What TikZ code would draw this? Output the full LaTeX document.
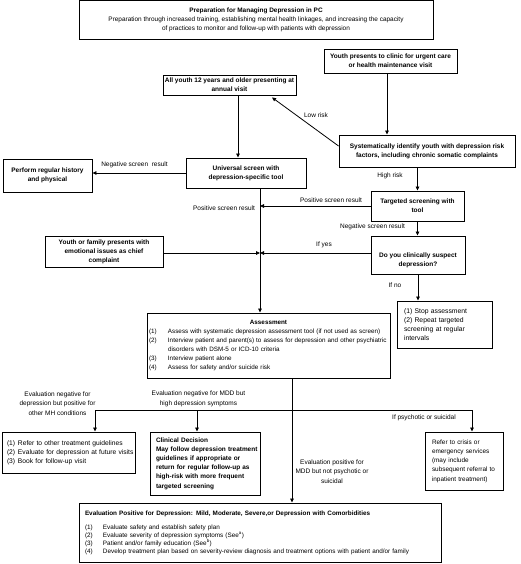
\documentclass[tikz,border=0pt]{standalone}
\usepackage{fontspec}
\setmainfont{Liberation Sans}
\usetikzlibrary{arrows.meta,calc}
\newcommand\fsz[2]{\fontsize{#1}{#2}\selectfont}
\newcommand\fs{\fsz{6.5}{9}}
\newcommand\numit[3]{\makebox[#1][l]{#2}\mbox{#3}}
\begin{document}
\begin{tikzpicture}[x=1pt,y=-1pt,
  box/.style={draw, line width=0.9pt, inner sep=0pt, font=\fs, align=center},
  bbox/.style={box, font=\fs\bfseries},
  lbox/.style={box, align=left},
  arr/.style={line width=0.8pt, -{Triangle[length=4pt,width=3.6pt]}},
  ln/.style={line width=0.8pt},
  lab/.style={font=\fsz{6.5}{9.5}, align=center, inner sep=0pt}]
\useasboundingbox (0,0) rectangle (520,564);

% boxes
\node[box, font=\fsz{6.45}{9}, minimum width=354pt, minimum height=39pt] (top) at (256,19.75)
  {\textbf{Preparation for Managing Depression in PC}\\Preparation through increased training, establishing mental health linkages, and increasing the capacity\\of practices to monitor and follow-up with patients with depression};
\node[bbox, minimum width=133pt, minimum height=24pt] (youth) at (390.5,61)
  {Youth presents to clinic for urgent care\\or health maintenance visit};
\node[bbox, minimum width=133pt, minimum height=20pt] (allyouth) at (229.5,85)
  {All youth 12 years and older presenting at\\annual visit};
\node[bbox, minimum width=176pt, minimum height=32pt] (sys) at (427,151)
  {Systematically identify youth with depression risk\\factors, including chronic somatic complaints};
\node[bbox, minimum width=89pt, minimum height=33pt] (perf) at (47.5,175.5)
  {Perform regular history\\and physical};
\node[bbox, minimum width=120pt, minimum height=30pt] (univ) at (246,173)
  {Universal screen with\\depression-specific tool};
\node[bbox, minimum width=93pt, minimum height=30pt] (targ) at (417.5,206)
  {Targeted screening with\\tool};
\node[bbox, minimum width=94pt, minimum height=38pt] (doyou) at (418,255)
  {\rule{0pt}{15pt}Do you clinically suspect\\depression?};
\node[bbox, minimum width=118pt, minimum height=31pt] (yfam) at (104,251.5)
  {Youth or family presents with\\emotional issues as chief\\complaint};
\node[lbox, font=\fsz{6.8}{9}, minimum width=95pt, minimum height=47pt, inner xsep=7pt, text width=81pt] (stop) at (444.5,324.5)
  {\mbox{(1) Stop assessment}\\\mbox{(2) Repeat targeted}\\\mbox{screening at regular}\\\mbox{intervals}};
\node[lbox, font=\fsz{6.3}{9}, minimum width=243pt, minimum height=65pt, inner xsep=2pt, text width=239pt] (assess) at (268.5,345.5)
  {\makebox[239pt][c]{\textbf{Assessment}}\\
   \numit{19pt}{(1)}{Assess with systematic depression assessment tool (if not used as screen)}\\
   \numit{19pt}{(2)}{Interview patient and parent(s) to assess for depression and other psychiatric}\\
   \numit{19pt}{}{disorders with DSM-5 or ICD-10 criteria}\\
   \numit{19pt}{(3)}{Interview patient alone}\\
   \numit{19pt}{(4)}{Assess for safety and/or suicide risk}};
\node[lbox, font=\fsz{6.7}{9}, minimum width=133pt, minimum height=41pt, inner xsep=5pt, text width=123pt] (refer) at (68.5,452.5)
  {\numit{11pt}{(1)}{Refer to other treatment guidelines}\\
   \numit{11pt}{(2)}{Evaluate for depression at future visits}\\
   \numit{11pt}{(3)}{Book for follow-up visit}};
\node[lbox, font=\fsz{6.45}{9.2}\bfseries, minimum width=110pt, minimum height=63pt, inner xsep=6pt, text width=98pt] (clin) at (205,463.5)
  {\mbox{Clinical Decision}\\\mbox{May follow depression treatment}\\\mbox{guidelines if appropriate or}\\\mbox{return for regular follow-up as}\\\mbox{high-risk with more frequent}\\\mbox{targeted screening}};
\node[lbox, font=\fsz{6.4}{9.2}, minimum width=78pt, minimum height=58pt, inner xsep=7pt, text width=64pt] (crisis) at (464,461)
  {\mbox{Refer to crisis or}\\\mbox{emergency services}\\\mbox{(may include}\\\mbox{subsequent referral to}\\\mbox{inpatient treatment)}};
\node[lbox, font=\fsz{6.35}{8}, minimum width=362pt, minimum height=59pt, inner xsep=6pt, text width=350pt] (final) at (260,532.5)
  {\mbox{\textbf{Evaluation Positive for Depression: Mild, Moderate, Severe,or Depression with Comorbidities}}\\[6pt]
   \numit{18pt}{(1)}{Evaluate safety and establish safety plan}\\
   \numit{18pt}{(2)}{Evaluate severity of depression symptoms (See\textsuperscript{a})}\\
   \numit{18pt}{(3)}{Patient and/or family education (See\textsuperscript{b})}\\
   \numit{18pt}{(4)}{Develop treatment plan based on severity-review diagnosis and treatment options with patient and/or family}};

% helper coordinates
\coordinate (yx) at (387,0);
\coordinate (ax) at (238,0);
\coordinate (sp) at (260,0);
\coordinate (m) at (260,253);
\coordinate (bj) at (292,410);
\coordinate (b1) at (95,410);
\coordinate (b2) at (197,410);
\coordinate (b3) at (472,410);

% connectors
\draw[arr] (youth.south -| yx) -- (sys.north -| yx);
\draw[arr] ([yshift=5pt]sys.west) -- ([xshift=42.5pt,yshift=-2pt]allyouth.south);
\draw[arr] (allyouth.south -| ax) -- (univ.north -| ax);
\draw[arr] (univ.west) -- (univ.west -| perf.east);
\draw[arr] (sys.south -| targ.north) -- (targ.north);
\draw[arr] (univ.south -| sp) -- (assess.north -| sp);
\draw[arr] (targ.west) -- (targ.west -| sp);
\draw[arr] (targ.south) -- (targ.south |- doyou.north);
\draw[arr] (yfam.east |- m) -- (m);
\draw[arr] (doyou.west |- m) -- (m);
\draw[arr] (doyou.south) -- (doyou.south |- stop.north);
\draw[arr] (assess.south -| bj) -- (final.north -| bj);
\draw[ln] (b1) -- (b3);
\draw[arr] (b1) -- (b1 |- refer.north);
\draw[arr] (b2) -- (b2 |- clin.north);
\draw[arr] (b3) -- (b3 |- crisis.north);

% labels
\node[lab] (lLow) at (316,115) {Low risk};
\node[lab] (lNeg1) at (134.5,165) {Negative screen\ \ result};
\node[lab] (lHigh) at (390,176) {High risk};
\node[lab] (lPos1) at (331,200) {Positive screen result};
\node[lab] (lPos2) at (224,208) {Positive screen result};
\node[lab] (lNeg2) at (372.5,227) {Negative screen result};
\node[lab] (lYes) at (324,245) {If yes};
\node[lab] (lNo) at (395,285) {If no};
\node[lab] (lE1) at (57.5,403.5) {Evaluation negative for\\depression but positive for\\other MH conditions};
\node[lab] (lE2) at (198.5,399) {Evaluation negative for MDD but\\high depression symptoms};
\node[lab] (lPsy) at (424,418) {If psychotic or suicidal};
\node[lab] (lE3) at (332,471.5) {Evaluation positive for\\MDD but not psychotic or\\suicidal};
\end{tikzpicture}
\end{document}
